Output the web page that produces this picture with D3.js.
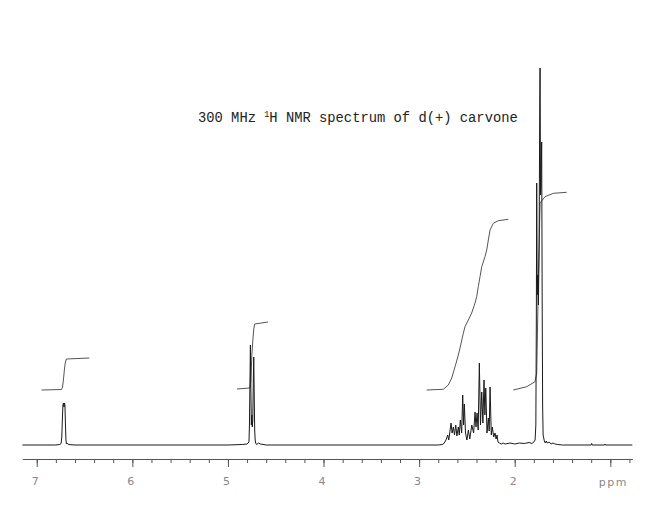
<!DOCTYPE html>
<html>
<head>
<meta charset="utf-8">
<script src="https://cdn.jsdelivr.net/npm/d3@7"></script>
<style>
body { margin: 0; background: #fff; }
.spec { fill: none; stroke: #1a1a1a; stroke-width: 1; }
.integ { fill: none; stroke: #555; stroke-width: 1; }
.axis path, .axis line { stroke: #555; }
.axis text { fill: #888; font-family: "DejaVu Sans", sans-serif; font-size: 11px; }
</style>
</head>
<body>
<script>
// 300 MHz 1H NMR spectrum of carvone

// spectrum points [ppm, intensity]
var spectrum = [
  [7.15,0],[6.80,0],[6.76,0.5],[6.745,1.5],[6.738,8],[6.732,25],[6.726,40],[6.72,42],[6.715,38],
  [6.71,42],[6.705,40],[6.70,22],[6.695,6],[6.69,1],[6.68,2],[6.67,0.5],[6.60,0],
  [5.00,0],[4.85,0.5],[4.80,1],[4.78,3],[4.775,20],[4.77,60],[4.765,100],[4.76,55],[4.755,20],
  [4.75,30],[4.745,18],[4.74,25],[4.735,60],[4.73,88],[4.725,50],[4.72,15],[4.715,5],[4.71,2],
  [4.70,0.5],[4.68,2],[4.66,1],[4.60,0],
  [2.80,0],[2.76,0.5],[2.747,1],[2.73,3],[2.715,6],[2.701,10],[2.69,5],[2.68,12],[2.666,22],
  [2.655,12],[2.642,18],[2.63,10],[2.617,20],[2.605,9],[2.59,18],[2.58,10],[2.569,25],[2.555,12],
  [2.544,50],[2.535,20],[2.527,41],[2.515,12],[2.50,5],[2.485,15],[2.47,6],[2.449,20],[2.43,12],
  [2.415,33],[2.405,18],[2.394,32],[2.382,15],[2.370,82],[2.358,20],[2.345,53],[2.333,22],
  [2.321,65],[2.312,30],[2.303,57],[2.29,12],[2.276,27],[2.267,14],[2.258,58],[2.245,10],
  [2.234,18],[2.22,8],[2.206,12],[2.195,6],[2.185,10],[2.175,3],[2.16,2],[2.14,1],[2.12,2],
  [2.10,1],[2.05,2],[2.00,1],[1.95,2],[1.90,1.5],[1.85,2.5],[1.82,1.5],[1.80,3],[1.787,5],
  [1.779,20],[1.774,120],[1.770,262],[1.765,150],[1.76,170],[1.752,140],[1.745,200],[1.738,340],
  [1.735,377],[1.73,250],[1.725,260],[1.718,303],[1.713,150],[1.708,40],[1.703,10],[1.69,4],
  [1.68,2],[1.67,4],[1.66,2],[1.64,3],[1.62,1],[1.60,2],[1.58,1],[1.55,0.5],[1.50,0],[1.20,0],
  [1.195,1.5],[1.19,0],[1.06,0],[1.056,1],[1.05,0],[0.77,0]
];

// integral traces [ppm, level]
var integ1 = [[6.95,55],[6.74,55.5],[6.73,58],[6.72,66],[6.71,76],[6.70,83],[6.69,86],[6.45,87]];
var integ2 = [[4.905,56],[4.77,57],[4.76,64],[4.75,90],[4.74,104],[4.73,116],[4.72,121],[4.58,123]];
var integ3 = [
  [2.921,55],[2.747,55.7],[2.695,60],[2.659,67],[2.624,78.3],[2.590,90],[2.572,97],[2.538,111.7],
  [2.520,118.3],[2.485,125],[2.450,132],[2.415,142],[2.398,148.3],[2.381,158.3],[2.363,168.3],
  [2.345,178.3],[2.311,188.3],[2.293,195],[2.276,205],[2.258,215],[2.224,221.7],[2.172,224.3],
  [2.067,225.7]
];
var integ4 = [[2.015,55],[1.874,58.3],[1.788,63.3],[1.770,72],[1.755,150],[1.735,242],[1.683,248.3],
  [1.596,251.7],[1.456,252.7]];

var majorTicks = [7, 6, 5, 4, 3, 2, 1];
var minorTicks = [7.0,6.8,6.6,6.4,6.2,6.0,5.8,5.6,5.4,5.2,5.0,4.8,4.6,4.4,4.2,4.0,3.8,3.6,3.4,3.2,
  3.0,2.8,2.6,2.4,2.2,2.0,1.8,1.6,1.4,1.2,1.0,0.8];

var width = 646, height = 528;

var svg = d3.select("body").append("svg")
  .attr("width", width)
  .attr("height", height);

// ppm runs right to left
var x = d3.scaleLinear().domain([7.15, 0.77]).range([22.4, 632.3]);
var y = d3.scaleLinear().domain([0, 380]).range([445, 65]);

var line = d3.line()
  .x(function(d) { return x(d[0]); })
  .y(function(d) { return y(d[1]); });

// integrals first, spectrum on top
[integ1, integ2, integ3, integ4].forEach(function(d) {
  svg.append("path").datum(d).attr("class", "integ").attr("d", line);
});

svg.append("path")
  .datum(spectrum)
  .attr("class", "spec")
  .attr("d", line);

// minor ticks
svg.append("g")
  .attr("class", "axis")
  .attr("transform", "translate(0,459)")
  .call(d3.axisBottom(x).tickValues(minorTicks).tickSize(4).tickSizeOuter(0).tickFormat(""));

// major ticks + labels
var ax = svg.append("g")
  .attr("class", "axis")
  .attr("transform", "translate(0,459)")
  .call(d3.axisBottom(x).tickValues(majorTicks).tickSize(8).tickSizeOuter(0).tickPadding(10)
    .tickFormat(function(d) { return d === 1 ? "" : d; }));
ax.selectAll(".tick text").attr("dx", "-2");

svg.append("text")
  .attr("x", x(1) + 3)
  .attr("y", 486)
  .attr("text-anchor", "middle")
  .style("font-family", "DejaVu Sans, sans-serif")
  .style("font-size", "11px")
  .style("letter-spacing", "1.5px")
  .style("fill", "#888")
  .text("ppm");

// title
var title = svg.append("text")
  .attr("x", 198)
  .attr("y", 122)
  .style("font-family", "Liberation Mono, monospace")
  .style("font-size", "13.8px")
  .style("fill", "#222");
title.append("tspan").text("300 MHz ");
title.append("tspan").attr("dy", -5).style("font-size", "8.5px").text("1");
title.append("tspan").attr("dy", 5).text("H NMR spectrum of d(+) carvone");
</script>
</body>
</html>
